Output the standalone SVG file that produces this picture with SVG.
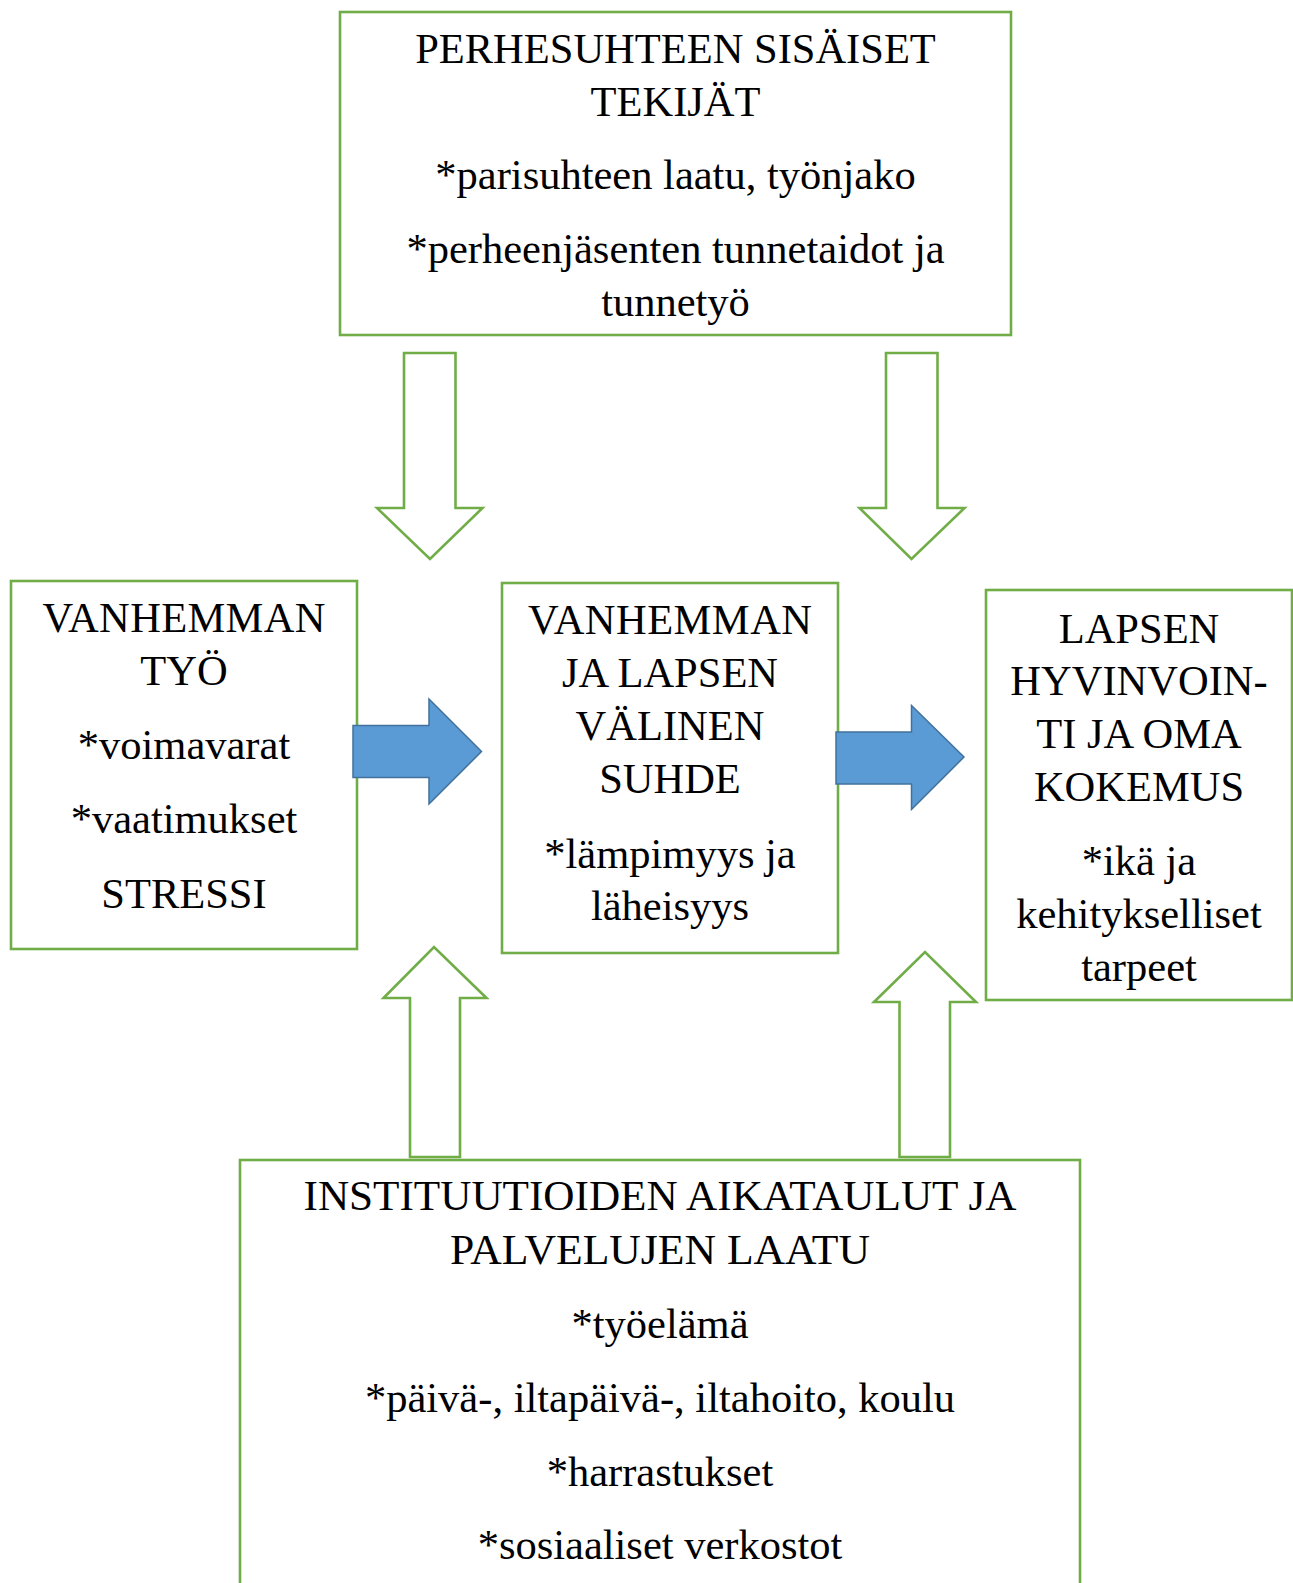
<svg xmlns="http://www.w3.org/2000/svg" width="1293" height="1583" viewBox="0 0 1293 1583">
<style>
.box{fill:#fff;stroke:#70AD47;stroke-width:2.6}
.ga{fill:#fff;stroke:#70AD47;stroke-width:2.6;stroke-linejoin:miter}
.ba{fill:#5B9BD5;stroke:#41719C;stroke-width:1.5}
text{font-family:"Liberation Serif","Times New Roman",serif;font-size:42.5px;fill:#000;text-anchor:middle}
</style>
<rect width="1293" height="1583" fill="#fff"/>
<g id="top">
<rect class="box" x="340" y="12" width="671" height="323"/>
<text x="675.5" y="63">PERHESUHTEEN SISÄISET</text>
<text x="675.5" y="116">TEKIJÄT</text>
<text x="675.5" y="189">*parisuhteen laatu, työnjako</text>
<text x="675.5" y="263">*perheenjäsenten tunnetaidot ja</text>
<text x="675.5" y="316">tunnetyö</text>
</g>
<g id="left">
<rect class="box" x="11" y="581" width="346" height="368"/>
<text x="184" y="632" textLength="283" lengthAdjust="spacing">VANHEMMAN</text>
<text x="184" y="685">TYÖ</text>
<text x="184" y="759">*voimavarat</text>
<text x="184" y="833">*vaatimukset</text>
<text x="184" y="908">STRESSI</text>
</g>
<g id="middle">
<rect class="box" x="502" y="583" width="336" height="370"/>
<text x="670" y="634" textLength="284" lengthAdjust="spacing">VANHEMMAN</text>
<text x="670" y="687">JA LAPSEN</text>
<text x="670" y="740">VÄLINEN</text>
<text x="670" y="793">SUHDE</text>
<text x="670" y="868">*lämpimyys ja</text>
<text x="670" y="920">läheisyys</text>
</g>
<g id="right">
<rect class="box" x="986" y="590" width="306" height="410"/>
<text x="1139" y="643">LAPSEN</text>
<text x="1139" y="695">HYVINVOIN-</text>
<text x="1139" y="748">TI JA OMA</text>
<text x="1139" y="801">KOKEMUS</text>
<text x="1139" y="875">*ikä ja</text>
<text x="1139" y="928">kehitykselliset</text>
<text x="1139" y="981">tarpeet</text>
</g>
<g id="bottom">
<rect class="box" x="240" y="1160" width="840" height="440"/>
<text x="660" y="1210" textLength="713" lengthAdjust="spacingAndGlyphs">INSTITUUTIOIDEN AIKATAULUT JA</text>
<text x="660" y="1264" textLength="420" lengthAdjust="spacingAndGlyphs">PALVELUJEN LAATU</text>
<text x="660" y="1338">*työelämä</text>
<text x="660" y="1412">*päivä-, iltapäivä-, iltahoito, koulu</text>
<text x="660" y="1486">*harrastukset</text>
<text x="660" y="1559">*sosiaaliset verkostot</text>
</g>
<g id="connectors">
<polygon class="ga" points="404,353 455.5,353 455.5,508 482.5,508 430,559 377,508 404,508"/>
<polygon class="ga" points="886,353 937.5,353 937.5,508 964.5,508 911.5,559 859.5,508 886,508"/>
<polygon class="ga" points="410,1157 460,1157 460,998 486.5,998 434,947 383.5,998 410,998"/>
<polygon class="ga" points="899.5,1157 950,1157 950,1002 976,1002 925,952 874,1002 899.5,1002"/>
<polygon class="ba" points="353,725.5 429,725.5 429,699 481.5,751.5 429,804 429,777.5 353,777.5"/>
<polygon class="ba" points="836,732 911.5,732 911.5,705.5 964,757 911.5,809.5 911.5,784 836,784"/>
</g>
</svg>
